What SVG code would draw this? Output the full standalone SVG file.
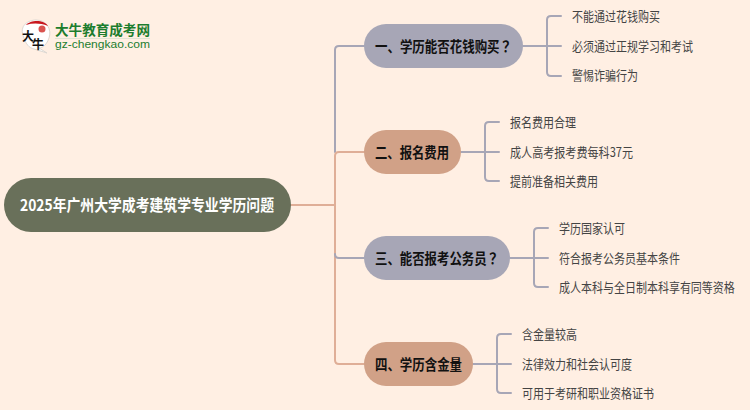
<svg xmlns="http://www.w3.org/2000/svg" width="750" height="410" viewBox="0 0 750 410">
<style>
text{font-family:"Noto Sans CJK SC","Liberation Sans",sans-serif;dominant-baseline:central}
.l{fill:none;stroke-width:2;stroke-linecap:round}
.p{stroke:#a7a6b6}.o{stroke:#dfae97}
.t{font-size:14.5px;font-weight:700;fill:#111}
.c{font-size:13px;fill:#444}
text.q{font-family:"Noto Sans CJK JP",sans-serif}
.n1{fill:#a7a6b6}.n2{fill:#d1a187}
</style>
<rect width="750" height="410" fill="#ffefe3"/>
<g id="logo">
<path d="M24 38C18 25 29 20 36 20C47 20 52 30 49 38C47 44 43 48 39 48L47 53L34 49C29 48 26 44 24 38Z" fill="#fff" stroke="#ddd8d2"/>
<path d="M26 25C30 20 44 19 48 26C40 23 33 23 26 25Z" fill="#c8161d"/>
<circle cx="42" cy="29" r="3.5" fill="#d9534f"/>
<text x="22" y="35" font-size="12" font-weight="700" fill="#111">大</text>
<text x="32" y="43" font-size="12" font-weight="700" fill="#111">牛</text>
<text x="55" y="29" font-size="13.5" font-weight="700" fill="#1c7d2e" textLength="95" lengthAdjust="spacingAndGlyphs">大牛教育成考网</text>
<rect x="55" y="38" width="95" height="1" fill="#dfe5d3"/>
<text x="55" y="44" font-size="10.5" fill="#1c7d2e" style="font-family:'Liberation Sans',sans-serif" textLength="95" lengthAdjust="spacingAndGlyphs">gz-chengkao.com</text>
</g>
<g id="connectors">
<path class="l o" d="M291 205H335"/>
<path class="l p" d="M364 46H339Q335 46 335 50V152"/>
<path class="l o" d="M364 152H339Q335 152 335 156V360Q335 364 339 364H364"/>
<path class="l p" d="M335 254Q335 258 339 258H364"/>
<path class="l p" d="M523 46H561M561 16H551Q547 16 547 20V72Q547 76 551 76H561"/>
<path class="l p" d="M461 152H499M499 122H489Q485 122 485 126V177Q485 181 489 181H499"/>
<path class="l p" d="M510 258H548M548 228H538Q534 228 534 232V283Q534 287 538 287H548"/>
<path class="l p" d="M473 364H511M511 334H501Q497 334 497 338V389Q497 393 501 393H511"/>
</g>
<g id="root"><rect x="4" y="178" width="287" height="54" rx="27" fill="#69705a"/><text x="20" y="204" font-size="16" font-weight="700" fill="#fff" textLength="254" lengthAdjust="spacingAndGlyphs">2025年广州大学成考建筑学专业学历问题</text></g>
<g id="n1"><rect class="n1" x="364" y="24" width="159" height="44" rx="22"/><text class="t q" x="375" y="45" textLength="137" lengthAdjust="spacingAndGlyphs">一、学历能否花钱购买？</text></g>
<g id="n2"><rect class="n2" x="364" y="130" width="97" height="44" rx="22"/><text class="t" x="375" y="151" textLength="74" lengthAdjust="spacingAndGlyphs">二、报名费用</text></g>
<g id="n3"><rect class="n1" x="364" y="236" width="146" height="44" rx="22"/><text class="t q" x="375" y="257" textLength="124" lengthAdjust="spacingAndGlyphs">三、能否报考公务员？</text></g>
<g id="n4"><rect class="n2" x="364" y="342" width="109" height="44" rx="22"/><text class="t" x="375" y="363" textLength="87" lengthAdjust="spacingAndGlyphs">四、学历含金量</text></g>
<g id="c1"><text class="c" x="572" y="15" textLength="88" lengthAdjust="spacingAndGlyphs">不能通过花钱购买</text><text class="c" x="572" y="45" textLength="121" lengthAdjust="spacingAndGlyphs">必须通过正规学习和考试</text><text class="c" x="572" y="74" textLength="66" lengthAdjust="spacingAndGlyphs">警惕诈骗行为</text></g>
<g id="c2"><text class="c" x="510" y="121" textLength="66" lengthAdjust="spacingAndGlyphs">报名费用合理</text><text class="c" x="510" y="151" textLength="123" lengthAdjust="spacingAndGlyphs">成人高考报考费每科37元</text><text class="c" x="510" y="180" textLength="88" lengthAdjust="spacingAndGlyphs">提前准备相关费用</text></g>
<g id="c3"><text class="c" x="559" y="227" textLength="66" lengthAdjust="spacingAndGlyphs">学历国家认可</text><text class="c" x="559" y="257" textLength="121" lengthAdjust="spacingAndGlyphs">符合报考公务员基本条件</text><text class="c" transform="translate(559 286) scale(.846 1)">成人本科与全日制本科享有同等资格</text></g>
<g id="c4"><text class="c" x="522" y="333" textLength="55" lengthAdjust="spacingAndGlyphs">含金量较高</text><text class="c" x="522" y="363" textLength="110" lengthAdjust="spacingAndGlyphs">法律效力和社会认可度</text><text class="c" x="522" y="392" textLength="132" lengthAdjust="spacingAndGlyphs">可用于考研和职业资格证书</text></g>
</svg>
